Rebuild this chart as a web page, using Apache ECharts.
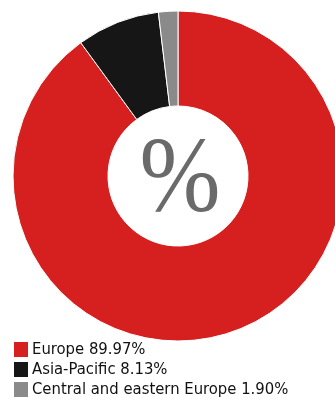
<!DOCTYPE html>
<html>
<head>
<meta charset="utf-8">
<script src="https://cdn.jsdelivr.net/npm/echarts@6/dist/echarts.min.js"></script>
<style>
html,body{margin:0;padding:0;background:#fff;}
#chart{width:335px;height:405px;}
</style>
</head>
<body>
<div id="chart"></div>
<script>
var regions = ['Europe', 'Asia-Pacific', 'Central and eastern Europe'];
var shares = [89.97, 8.13, 1.90];
var colors = ['#d6201f', '#161616', '#8a8a8a'];

var myChart = echarts.init(document.getElementById('chart'));

var pieData = regions.map(function (name, i) {
  return { name: name, value: shares[i], itemStyle: { color: colors[i] } };
});

var option = {
  animation: false,
  legend: {
    orient: 'vertical',
    left: 12,
    top: 340,
    height: 65,
    padding: 0,
    icon: 'rect',
    itemWidth: 16,
    itemHeight: 17,
    itemGap: 1,
    selectedMode: false,
    formatter: function (name) {
      var i = regions.indexOf(name);
      return name + ' ' + shares[i].toFixed(2) + '%';
    },
    textStyle: {
      fontFamily: 'Liberation Sans Narrow, DejaVu Sans Condensed, sans-serif',
      fontSize: 16.5,
      lineHeight: 16,
      color: '#111',
      padding: [0, 0, 0, -2]
    }
  },
  graphic: [{
    type: 'text',
    x: 180,
    y: 183,
    scaleX: 0.9,
    style: {
      text: '%',
      align: 'center',
      verticalAlign: 'middle',
      fontFamily: 'Liberation Serif, DejaVu Serif, serif',
      fontSize: 108,
      fill: '#6a6a6a'
    }
  }],
  series: [{
    type: 'pie',
    center: [178, 176],
    radius: [70, 165],
    startAngle: 90,
    clockwise: true,
    label: { show: false },
    labelLine: { show: false },
    silent: true,
    itemStyle: { borderColor: '#fff', borderWidth: 1 },
    data: pieData
  }]
};
myChart.setOption(option);
</script>
</body>
</html>
